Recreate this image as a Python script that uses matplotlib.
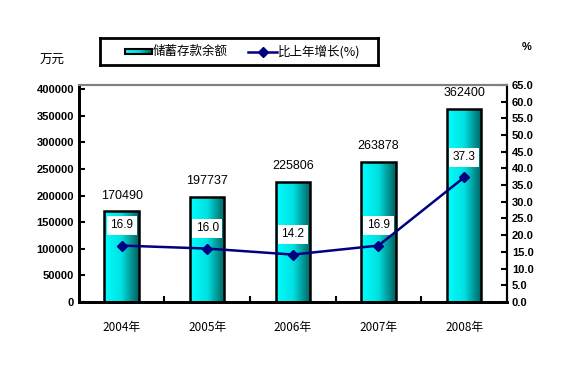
import numpy as np
import matplotlib.pyplot as plt
from matplotlib.colors import LinearSegmentedColormap
from matplotlib.patches import Rectangle

plt.rcParams['font.family'] = ['Liberation Sans', 'Noto Sans CJK SC', 'DejaVu Sans']

years = ['2004年', '2005年', '2006年', '2007年', '2008年']
savings = [170490, 197737, 225806, 263878, 362400]
growth = [16.9, 16.0, 14.2, 16.9, 37.3]

fig = plt.figure(figsize=(5.67, 3.84), dpi=100)
ax = fig.add_axes([0.139, 0.2135, 0.755, 0.5655])
ax2 = ax.twinx()

x = np.arange(len(years))
w = 0.4
cmap = LinearSegmentedColormap.from_list('cy', ['#00ffff', '#00e0e0', '#006060'])
grad = np.linspace(0, 1, 100).reshape(1, -1)

bars = ax.bar(x, savings, width=w, color='none', edgecolor='black', linewidth=1.8, zorder=3)
for b in bars:
    bx, by = b.get_x(), b.get_y()
    bw, bh = b.get_width(), b.get_height()
    im = ax.imshow(grad, cmap=cmap, aspect='auto', extent=[bx, bx + bw, by, by + bh], zorder=2)
    im.set_clip_path(Rectangle((bx, by), bw, bh, transform=ax.transData))

for xi, v in zip(x, savings):
    ax.annotate(str(v), (xi, v), xytext=(0, 7), textcoords='offset points',
                ha='center', va='bottom', fontsize=9)

ax.set_xlim(-0.5, len(years) - 0.5)
ax.set_ylim(0, 408000)
ax.set_yticks(np.arange(0, 400001, 50000))
ax.set_xticks(x)
ax.set_xticklabels(years, fontsize=8.5, family=['Noto Sans CJK SC'])
ax.set_xticks(np.arange(0.5, len(years) - 1, 1), minor=True)
ax.tick_params(axis='x', which='major', length=0, pad=14)
ax.tick_params(axis='x', which='minor', direction='in', length=4, width=1.5)
ax.tick_params(axis='y', direction='in', length=4, width=1.5, labelsize=8)
for t in ax.get_yticklabels():
    t.set_fontweight('bold')

ax2.plot(x, growth, color='#000080', marker='D', markersize=5, linewidth=1.8, zorder=5)
for xi, g in zip(x, growth):
    ax2.annotate(f'{g:.1f}', (xi, g), xytext=(0, 14.5), textcoords='offset points',
                 ha='center', va='center', fontsize=8.5,
                 bbox=dict(boxstyle='square,pad=0.3', fc='white', ec='none'))
ax2.set_ylim(0, 65)
ax2.set_yticks(np.arange(0, 65.1, 5))
ax2.set_yticklabels([f'{v:.1f}' for v in np.arange(0, 65.1, 5)])
ax2.tick_params(axis='y', direction='in', length=4, width=1.5, labelsize=8)
for t in ax2.get_yticklabels():
    t.set_fontweight('bold')

for a in (ax, ax2):
    a.spines['top'].set_color('gray')
    a.spines['top'].set_linewidth(1.5)
    a.spines['left'].set_linewidth(2)
    a.spines['bottom'].set_linewidth(2)
    a.spines['right'].set_linewidth(1.5)

fig.text(40 / 567, 1 - 60 / 384, '万元', fontsize=9, ha='left', va='center',
         family=['Noto Sans CJK SC'])
fig.text(527 / 567, 1 - 47 / 384, '%', fontsize=8, ha='center', va='center', fontweight='bold')

# legend box
lg = fig.add_axes([100 / 567, 1 - 65 / 384, 278 / 567, 27 / 384])
lg.set_xlim(0, 278)
lg.set_ylim(0, 27)
lg.set_xticks([])
lg.set_yticks([])
for s in lg.spines.values():
    s.set_linewidth(2)
lg.imshow(grad, cmap=cmap, aspect='auto', extent=[25, 52, 11, 16], zorder=2)
lg.add_patch(Rectangle((25, 11), 27, 5, fill=False, ec='black', lw=1.5, zorder=3))
lg.text(53, 13.5, '储蓄存款余额', fontsize=9, va='center', family=['Noto Sans CJK SC'])
lg.plot([148, 177], [13.5, 13.5], color='#000080', lw=1.8)
lg.plot([163], [13.5], marker='D', color='#000080', markersize=5)
lg.text(178, 13.5, '比上年增长(%)', fontsize=9, va='center', family=['Noto Sans CJK SC'])

fig.savefig('out.png', dpi=100)
